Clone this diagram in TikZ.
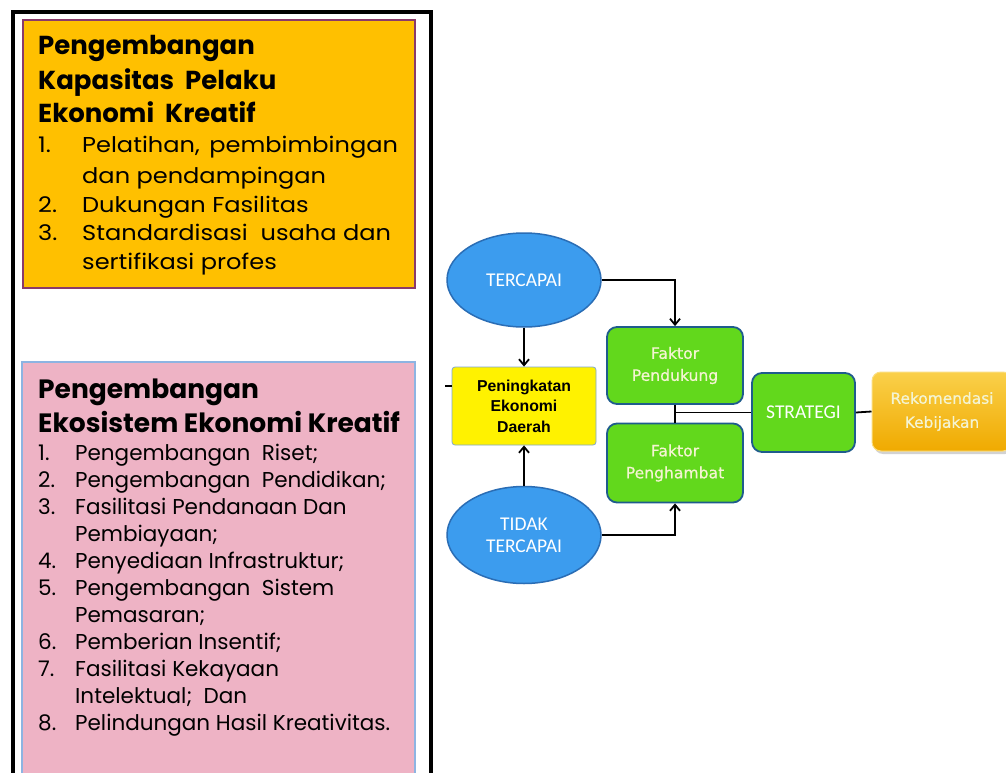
\documentclass[tikz,border=0pt]{standalone}
\usepackage{fontspec}
\usetikzlibrary{arrows.meta,shapes.geometric,shadows}
\newfontfamily\gothic{Poppins}
\newfontfamily\calib{Carlito}
\newfontfamily\verd[FakeBold=0.6]{DejaVu Sans}
\newfontfamily\arialf{Liberation Sans}
\newcommand\owide[1]{\scalebox{1.12}[1]{#1}}
\definecolor{orangebox}{HTML}{FFC000}
\definecolor{orangeedge}{HTML}{8A3A6A}
\definecolor{pinkbox}{HTML}{EEB3C5}
\definecolor{pinkedge}{HTML}{8DB4E2}
\definecolor{ellfill}{HTML}{3C9CEE}
\definecolor{elledge}{HTML}{2A6DB5}
\definecolor{grfill}{HTML}{62D81C}
\definecolor{gredge}{HTML}{1F5C8C}
\definecolor{rektop}{HTML}{FAD04A}
\definecolor{rekbot}{HTML}{F0AA00}
\definecolor{softwhite}{HTML}{F4F4D2}
\tikzset{
  ttl/.style={anchor=base west,inner sep=0pt,font=\gothic\bfseries\fontsize{26}{30}\selectfont},
  ttlp/.style={anchor=base west,inner sep=0pt,font=\gothic\bfseries\fontsize{26.5}{30}\selectfont},
  itm/.style={anchor=base west,inner sep=0pt,font=\gothic\fontsize{21.5}{26}\selectfont},
  itmp/.style={anchor=base west,inner sep=0pt,font=\gothic\fontsize{21.5}{26}\selectfont},
  ell/.style={ellipse,fill=ellfill,draw=elledge,line width=1.5pt,minimum width=154pt,minimum height=94pt,inner sep=0pt,text=white,font=\calib\fontsize{19.5}{22}\selectfont,align=center},
  grbox/.style={rounded corners=10pt,fill=grfill,draw=gredge,line width=1.8pt,inner sep=0pt,text=softwhite,align=center},
  lnk/.style={line width=1.8pt,black},
  arr/.style={lnk,-{Straight Barb[length=6pt,width=10pt]}},
}
\begin{document}
\begin{tikzpicture}[x=1pt,y=-1pt]
\clip (0,0) rectangle (1006,773);
\fill[white] (0,0) rectangle (1006,773);
% frame
\draw[line width=3.5pt] (13,800) -- (13,12) -- (431,12) -- (431,800);
% orange box
\fill[orangebox,draw=orangeedge,line width=1.2pt] (23,20) rectangle (415,288);
\node[ttl] (ot1) at (38,55) {Pengembangan};
\node[ttl] (ot2) at (38,90) {Kapasitas\ \ Pelaku};
\node[ttl] (ot3) at (38,123) {Ekonomi\ \ Kreatif};
\node[itm] (on1) at (38,153) {\owide{1.}};
\node[itm] (oi1) at (82,153) {\owide{\makebox[282pt][s]{Pelatihan,\ \ pembimbingan}}};
\node[itm] (oi1b) at (82,183) {\owide{dan pendampingan}};
\node[itm] (on2) at (38,212) {\owide{2.}};
\node[itm] (oi2) at (82,212) {\owide{Dukungan Fasilitas}};
\node[itm] (on3) at (38,240) {\owide{3.}};
\node[itm] (oi3) at (82,240) {\owide{Standardisasi\ \ usaha dan}};
\node[itm] (oi3b) at (82,269) {\owide{sertifikasi profes}};
% pink box
\fill[pinkbox,draw=pinkedge,line width=1.2pt] (22,362) rectangle (415,790);
\node[ttlp] (pt1) at (38,398) {Pengembangan};
\node[ttlp] (pt2) at (38,432) {Ekosistem Ekonomi Kreatif};
\foreach \n/\t [count=\k from 0] in {
  1./{Pengembangan\ \ Riset;},
  2./{Pengembangan\ \ Pendidikan;},
  3./{Fasilitasi Pendanaan Dan},
  /{Pembiayaan;},
  4./{Penyediaan Infrastruktur;},
  5./{Pengembangan\ \ Sistem},
  /{Pemasaran;},
  6./{Pemberian Insentif;},
  7./{Fasilitasi Kekayaan},
  /{Intelektual;\ \ Dan},
  8./{Pelindungan Hasil Kreativitas.}}{
  \node[itmp] (pn\k) at (38,460+27*\k) {\n};
  \node[itmp] (pi\k) at (75,460+27*\k) {\t};
}
% flow diagram
\node[ell] (terc) at (524,280) {TERCAPAI};
\node[ell,minimum height=97pt] (tidak) at (524,535) {TIDAK\\TERCAPAI};
\node[fill=yellow,draw=elledge!60,line width=0.8pt,rounded corners=3pt,minimum width=144pt,minimum height=78pt,inner sep=0pt,align=center,font=\arialf\bfseries\fontsize{15.8}{20.5}\selectfont] (yel) at (524,406) {Peningkatan\\Ekonomi\\Daerah};
\node[grbox,minimum width=136pt,minimum height=77pt,font=\verd\fontsize{15.6}{22}\selectfont] (fp) at (675,365.5) {Faktor\\Pendukung};
\node[grbox,minimum width=136pt,minimum height=79pt,font=\verd\fontsize{15.6}{22}\selectfont] (fh) at (675,463) {Faktor\\Penghambat};
\node[grbox,minimum width=103pt,minimum height=79pt,text=white,font=\calib\fontsize{19.5}{22}\selectfont] (strat) at (803.5,412.5) {STRATEGI};
\node[rounded corners=9pt,top color=rektop,bottom color=rekbot,draw=rektop!70!white,line width=1pt,drop shadow={opacity=0.35,shadow xshift=2pt,shadow yshift=-3pt},minimum width=140pt,minimum height=79pt,inner sep=0pt,align=center,text=softwhite,font=\verd\fontsize{15.4}{24}\selectfont] (rek) at (942,411.5) {Rekomendasi\\Kebijakan};
\coordinate (stub) at (445,386);
\draw[lnk] (stub) -- (yel.west |- stub);
\draw[arr] (terc.south) -- (yel.north);
\draw[arr] (tidak.north) -- (yel.south);
\draw[arr] (terc.east) -| (fp.north);
\draw[arr] (tidak.east) -| (fh.south);
\draw[lnk] (fp.south) -- (fh.north);
\draw[lnk] (fp.south |- strat.west) -- (strat.west);
\draw[lnk] (strat.east) -- (rek.west);
\end{tikzpicture}
\end{document}
